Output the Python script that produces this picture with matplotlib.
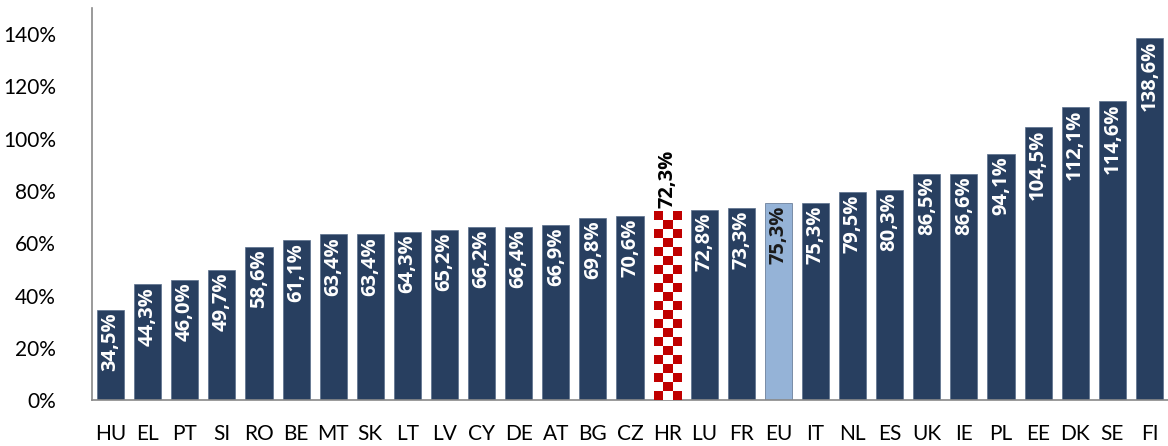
import numpy as np
import matplotlib.pyplot as plt
from matplotlib.ticker import FuncFormatter

countries = ['HU', 'EL', 'PT', 'SI', 'RO', 'BE', 'MT', 'SK', 'LT', 'LV', 'CY', 'DE', 'AT', 'BG', 'CZ',
             'HR', 'LU', 'FR', 'EU', 'IT', 'NL', 'ES', 'UK', 'IE', 'PL', 'EE', 'DK', 'SE', 'FI']
values = [34.5, 44.3, 46.0, 49.7, 58.6, 61.1, 63.4, 63.4, 64.3, 65.2, 66.2, 66.4, 66.9, 69.8, 70.6,
          72.3, 72.8, 73.3, 75.3, 75.3, 79.5, 80.3, 86.5, 86.6, 94.1, 104.5, 112.1, 114.6, 138.6]
yticks = [0, 20, 40, 60, 80, 100, 120, 140]

navy = '#283F60'
light = '#95B3D7'
red = '#C00000'

plt.rcParams['font.family'] = ['Lato', 'DejaVu Sans']

fig = plt.figure(figsize=(11.68, 4.46), dpi=100)
ax = fig.add_axes([0.0788, 0.103, 0.9212, 0.879])

x = np.arange(len(countries))
colors = [light if c == 'EU' else navy for c in countries]
bars = ax.bar(x, values, width=0.73, color=colors, edgecolor='#5a6f8c', linewidth=0.5)

# checkered bar for HR
i_hr = countries.index('HR')
b = bars[i_hr]
b.set_facecolor('white')
b.set_edgecolor('none')
nrows = 21
board = np.indices((nrows, 3)).sum(axis=0) % 2
cmap = plt.matplotlib.colors.ListedColormap([red, 'white'])
x0 = b.get_x()
im = ax.imshow(board, cmap=cmap, extent=[x0, x0 + b.get_width(), 0, b.get_height()],
               aspect='auto', interpolation='nearest', origin='lower', zorder=3)
im.set_clip_path(b)

def fmt(v):
    return f'{v:.1f}'.replace('.', ',') + '%'

lab_font = ['Open Sans', 'DejaVu Sans']
for i, (bar, v) in enumerate(zip(bars, values)):
    cx = bar.get_x() + bar.get_width() / 2
    if countries[i] == 'HR':
        ax.text(cx, v + 1.0, fmt(v), rotation=90, ha='center', va='bottom', family=lab_font,
                fontsize=14.5, fontweight='bold', color='black', zorder=4)
    else:
        col = '#1a1a1a' if countries[i] == 'EU' else 'white'
        ax.text(cx, v - 1.0, fmt(v), rotation=90, ha='center', va='top', family=lab_font,
                fontsize=14.5, fontweight='bold', color=col, zorder=4)

ax.set_xlim(-0.5, len(countries) - 0.5)
ax.set_ylim(0, 150)
ax.set_yticks(yticks)
ax.yaxis.set_major_formatter(FuncFormatter(lambda v, p: f'{v:.0f}%'))
ax.set_xticks(x)
ax.set_xticklabels(countries)
ax.tick_params(axis='both', length=0, labelsize=15, colors='black')
ax.tick_params(axis='x', pad=17)
ax.tick_params(axis='y', pad=26)
for lab in ax.get_yticklabels():
    lab.set_horizontalalignment('right')

for s in ['top', 'right']:
    ax.spines[s].set_visible(False)
for s in ['left', 'bottom']:
    ax.spines[s].set_color('#898989')
    ax.spines[s].set_linewidth(1.2)

fig.savefig('out.png', dpi=100)
